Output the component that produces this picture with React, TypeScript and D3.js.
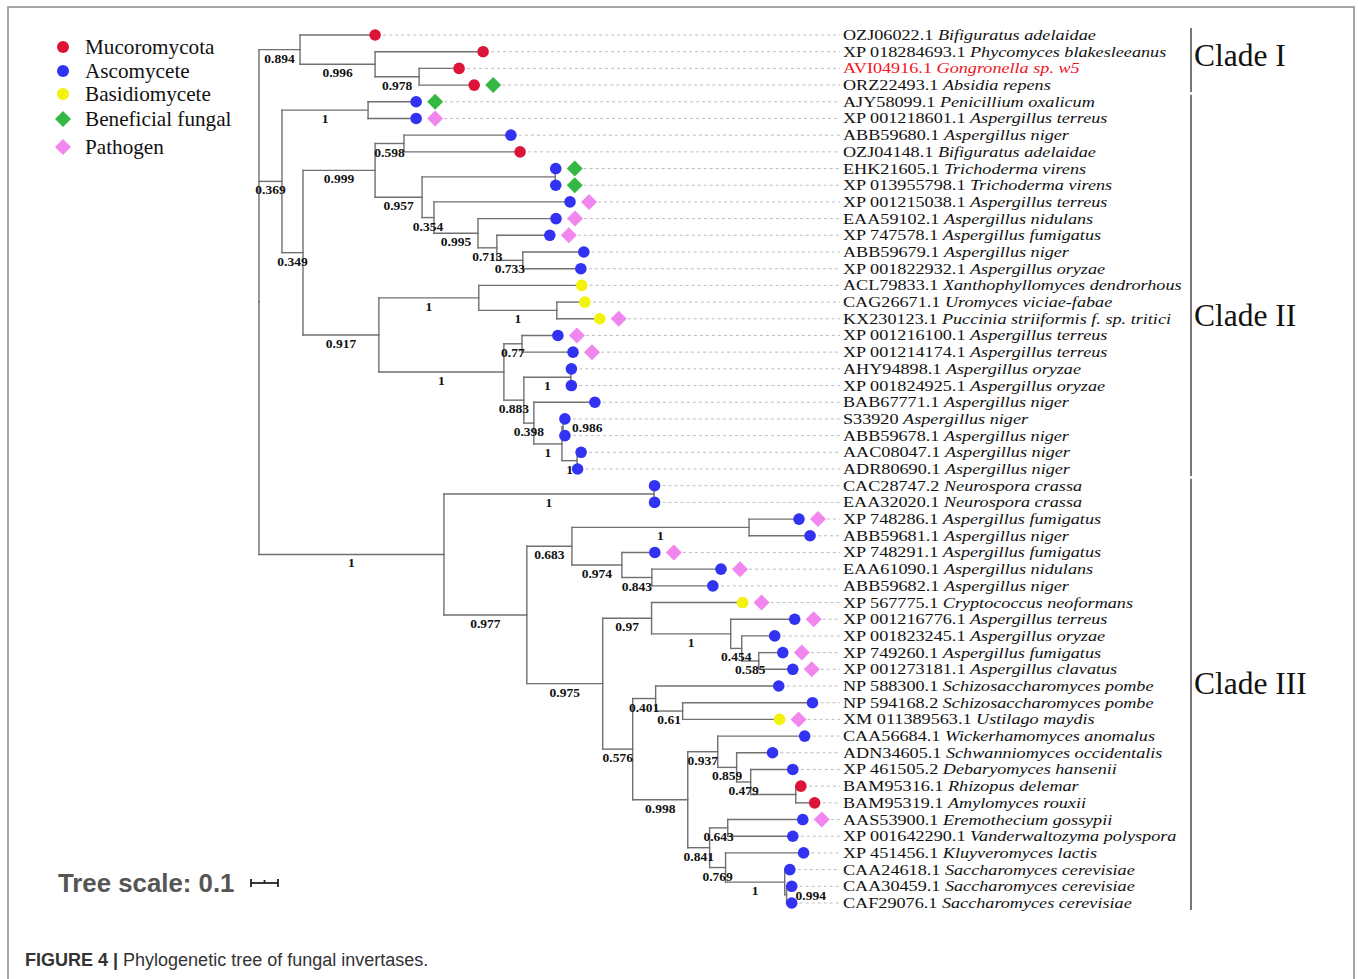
import React from "react";
import * as d3 from "d3";

// ---------- DATA ----------
// Tree topology with bootstrap values (internal labels) and branch lengths (substitutions/site)
const NEWICK = `(
 ((L0:0.278,(L1:0.400,(L2:0.148,L3:0.204)0.978:0.163)0.996:0.278)0.894:0.152,
 ((L4:0.178,L5:0.178)1:0.319,
  (((L6:0.396,L7:0.430)0.598:0.107,
    ((L8:0.002,L9:0.002):0.493,
     (L10:0.504,(L11:0.289,(L12:0.196,(L13:0.226,L14:0.215)0.733:0.096)0.713:0.070)0.995:0.163)0.354:0.044
    )0.957:0.174
   )0.999:0.267,
   ((L15:0.381,(L16:0.104,L17:0.159)1:0.289)1:0.370,
    ((L18:0.133,L19:0.189)0.77:0.067,
     ((L20:0.002,L21:0.002)1:0.174,
      (L22:0.226,((L23:0.007,L24:0.007)0.986:0.004,(L25:0.015,L26:0.002)1:0.056)1:0.104)0.398:0.037
     )0.883:0.074
    )1:0.463
   )0.917:0.281
  )0.349:0.078
 )0.369:0.085,
 ((L27:0.002,L28:0.002)1:0.778,
  (((L29:0.185,L30:0.226)1:0.656,(L31:0.122,(L32:0.256,L33:0.226)0.843:0.111)0.974:0.185)0.683:0.167,
   ((L34:0.337,(L35:0.237,(L36:0.122,(L37:0.089,L38:0.126)0.585:0.063)0.454:0.041)1:0.293)0.97:0.181,
    ((L39:0.456,(L40:0.481,L41:0.359)0.61:0.100)0.401:0.085,
     ((L42:0.322,(L43:0.133,(L44:0.156,(L45:0.019,L46:0.070):0.167)0.479:0.052)0.859:0.070)0.937:0.111,
      ((L47:0.278,L48:0.241)0.643:0.067,(L49:0.289,(L50:0.019,(L51:0.019,L52:0.019)0.994:0.007)1:0.219)0.769:0.059)0.841:0.081
     )0.998:0.204
    )0.576:0.111
   )0.975:0.281
  )0.977:0.307
 )1:0.685
);`;

const ACCESSIONS = [
  "OZJ06022.1", "XP 018284693.1", "AVI04916.1", "ORZ22493.1", "AJY58099.1",
  "XP 001218601.1", "ABB59680.1", "OZJ04148.1", "EHK21605.1", "XP 013955798.1",
  "XP 001215038.1", "EAA59102.1", "XP 747578.1", "ABB59679.1", "XP 001822932.1",
  "ACL79833.1", "CAG26671.1", "KX230123.1", "XP 001216100.1", "XP 001214174.1",
  "AHY94898.1", "XP 001824925.1", "BAB67771.1", "S33920", "ABB59678.1",
  "AAC08047.1", "ADR80690.1", "CAC28747.2", "EAA32020.1", "XP 748286.1",
  "ABB59681.1", "XP 748291.1", "EAA61090.1", "ABB59682.1", "XP 567775.1",
  "XP 001216776.1", "XP 001823245.1", "XP 749260.1", "XP 001273181.1", "NP 588300.1",
  "NP 594168.2", "XM 011389563.1", "CAA56684.1", "ADN34605.1", "XP 461505.2",
  "BAM95316.1", "BAM95319.1", "AAS53900.1", "XP 001642290.1", "XP 451456.1",
  "CAA24618.1", "CAA30459.1", "CAF29076.1",
];

const SPECIES = [
  "Bifiguratus adelaidae", "Phycomyces blakesleeanus", "Gongronella sp. w5", "Absidia repens", "Penicillium oxalicum",
  "Aspergillus terreus", "Aspergillus niger", "Bifiguratus adelaidae", "Trichoderma virens", "Trichoderma virens",
  "Aspergillus terreus", "Aspergillus nidulans", "Aspergillus fumigatus", "Aspergillus niger", "Aspergillus oryzae",
  "Xanthophyllomyces dendrorhous", "Uromyces viciae-fabae", "Puccinia striiformis f. sp. tritici", "Aspergillus terreus", "Aspergillus terreus",
  "Aspergillus oryzae", "Aspergillus oryzae", "Aspergillus niger", "Aspergillus niger", "Aspergillus niger",
  "Aspergillus niger", "Aspergillus niger", "Neurospora crassa", "Neurospora crassa", "Aspergillus fumigatus",
  "Aspergillus niger", "Aspergillus fumigatus", "Aspergillus nidulans", "Aspergillus niger", "Cryptococcus neoformans",
  "Aspergillus terreus", "Aspergillus oryzae", "Aspergillus fumigatus", "Aspergillus clavatus", "Schizosaccharomyces pombe",
  "Schizosaccharomyces pombe", "Ustilago maydis", "Wickerhamomyces anomalus", "Schwanniomyces occidentalis", "Debaryomyces hansenii",
  "Rhizopus delemar", "Amylomyces rouxii", "Eremothecium gossypii", "Vanderwaltozyma polyspora", "Kluyveromyces lactis",
  "Saccharomyces cerevisiae", "Saccharomyces cerevisiae", "Saccharomyces cerevisiae",
];

// M = Mucoromycota, A = Ascomycete, B = Basidiomycete
const GROUPS = [
  "M", "M", "M", "M", "A", "A", "A", "M", "A", "A",
  "A", "A", "A", "A", "A", "B", "B", "B", "A", "A",
  "A", "A", "A", "A", "A", "A", "A", "A", "A", "A",
  "A", "A", "A", "A", "B", "A", "A", "A", "A", "A",
  "A", "B", "A", "A", "A", "M", "M", "A", "A", "A",
  "A", "A", "A",
];

// F = Beneficial fungal, P = Pathogen, "" = none
const TRAITS = [
  "", "", "", "F", "F", "P", "", "", "F", "F",
  "P", "P", "P", "", "", "", "", "P", "P", "P",
  "", "", "", "", "", "", "", "", "", "P",
  "", "P", "P", "", "P", "P", "", "P", "P", "",
  "", "P", "", "", "", "", "", "P", "", "",
  "", "", "",
];

const HIGHLIGHT = [2];

const CLADES = [
  { name: "Clade I", first: 0, last: 3, labelAt: 1.2 },
  { name: "Clade II", first: 4, last: 26, labelAt: 16.8 },
  { name: "Clade III", first: 27, last: 52, labelAt: 38.8 },
];

const LEGEND = [
  { label: "Mucoromycota", key: "M", shape: "circle" },
  { label: "Ascomycete", key: "A", shape: "circle" },
  { label: "Basidiomycete", key: "B", shape: "circle" },
  { label: "Beneficial fungal", key: "F", shape: "diamond" },
  { label: "Pathogen", key: "P", shape: "diamond" },
];

const SCALE_VALUE = 0.1;

// ---------- STYLE ----------
const COLORS: Record<string, string> = {
  M: "#dc1438",
  A: "#3232f2",
  B: "#f2f20a",
  F: "#34b844",
  P: "#f086ee",
};
const BRANCH = "#707070";
const SERIF = "'Liberation Serif', 'Times New Roman', serif";
const SANS = "'Liberation Sans', Arial, sans-serif";

type TNode = { name: string; length: number; children: TNode[] };

function parseNewick(src: string): TNode {
  const s = src.replace(/\s+/g, "");
  let i = 0;
  function parseNode(): TNode {
    const node: TNode = { name: "", length: 0, children: [] };
    if (s[i] === "(") {
      i++;
      node.children.push(parseNode());
      while (s[i] === ",") {
        i++;
        node.children.push(parseNode());
      }
      i++;
    }
    let label = "";
    while (i < s.length && !":,);".includes(s[i])) label += s[i++];
    node.name = label;
    if (s[i] === ":") {
      i++;
      let num = "";
      while (i < s.length && !",);".includes(s[i])) num += s[i++];
      node.length = +num;
    }
    return node;
  }
  return parseNode();
}

function diamond(cx: number, cy: number, r: number) {
  return `M${cx},${cy - r}L${cx + r},${cy}L${cx},${cy + r}L${cx - r},${cy}Z`;
}

export default function App() {
  const W = 1358;
  const H = 979;

  const root = d3.hierarchy(parseNewick(NEWICK), (d: TNode) => (d.children.length ? d.children : null));

  // cumulative distances
  const dist = new Map<any, number>();
  root.eachBefore((n: any) => {
    dist.set(n, n.parent ? dist.get(n.parent)! + n.data.length : 0);
  });

  const x = d3.scaleLinear().domain([0, 1]).range([259, 529]);
  const y = d3.scaleLinear().domain([0, ACCESSIONS.length - 1]).range([35, 903]);

  const pos = new Map<any, { x: number; y: number }>();
  root.eachAfter((n: any) => {
    const px = x(dist.get(n)!);
    let py: number;
    if (!n.children) {
      py = y(+n.data.name.slice(1));
    } else {
      py = (pos.get(n.children[0])!.y + pos.get(n.children[n.children.length - 1])!.y) / 2;
    }
    pos.set(n, { x: px, y: py });
  });

  const lines: React.ReactNode[] = [];
  const labels: React.ReactNode[] = [];
  let k = 0;
  root.each((n: any) => {
    const p = pos.get(n)!;
    if (n.children) {
      const y0 = pos.get(n.children[0])!.y;
      const y1 = pos.get(n.children[n.children.length - 1])!.y;
      lines.push(<line key={`v${k++}`} x1={p.x} x2={p.x} y1={y0} y2={y1} />);
      n.children.forEach((c: any) => {
        const cp = pos.get(c)!;
        lines.push(<line key={`h${k++}`} x1={p.x} x2={cp.x} y1={cp.y} y2={cp.y} />);
      });
    }
    if (n.children && n.parent && n.data.name) {
      const pp = pos.get(n.parent)!;
      const len = p.x - pp.x;
      if (len < 5) {
        labels.push(
          <text key={`b${k++}`} x={p.x + 9} y={p.y + 5} textAnchor="start">
            {n.data.name}
          </text>
        );
      } else {
        labels.push(
          <text key={`b${k++}`} x={(p.x + pp.x) / 2} y={p.y + 13} textAnchor="middle">
            {n.data.name}
          </text>
        );
      }
    }
  });

  const leaves = root.leaves();
  const leafMarks = leaves.map((n: any) => {
    const idx = +n.data.name.slice(1);
    const p = pos.get(n)!;
    const trait = TRAITS[idx];
    const dx = p.x + 19;
    const dashStart = trait ? dx + 9 : p.x + 8;
    return (
      <g key={`leaf${idx}`}>
        <line x1={dashStart} x2={840} y1={p.y} y2={p.y} stroke="#bdbdbd" strokeWidth={1} strokeDasharray="3,3" />
        <circle cx={p.x} cy={p.y} r={5.8} fill={COLORS[GROUPS[idx]]} />
        {trait && <path d={diamond(dx, p.y, 8)} fill={COLORS[trait]} />}
        <text
          transform={`translate(843,${p.y + 5}) scale(1.22,1)`}
          fontFamily={SERIF}
          fontSize={14.9}
          fill={HIGHLIGHT.includes(idx) ? "#f0141e" : "#111"}
        >
          {ACCESSIONS[idx] + " "}
          <tspan fontStyle="italic">{SPECIES[idx]}</tspan>
        </text>
      </g>
    );
  });

  const scalePx = x(SCALE_VALUE) - x(0);
  const sbX = 251;
  const sbY = 883;

  return (
    <svg width={W} height={H} style={{ position: "absolute", left: 0, top: 0, background: "#fff" }}>
      <rect x={0} y={0} width={W} height={H} fill="#fff" />
      {/* frame */}
      <path d={`M8,${H + 5}V7H1354V${H + 5}`} fill="none" stroke="#8a8a8a" strokeWidth={1.5} />

      {/* legend */}
      <g fontFamily={SERIF} fontSize={21.2}>
        {LEGEND.map((l, i) => {
          const ly = [47, 71, 94, 119, 147][i];
          return (
            <g key={l.key}>
              {l.shape === "circle" ? (
                <circle cx={63} cy={ly} r={6} fill={COLORS[l.key]} />
              ) : (
                <path d={diamond(63, ly, 8)} fill={COLORS[l.key]} />
              )}
              <text x={85} y={ly + 7} fill="#111">
                {l.label}
              </text>
            </g>
          );
        })}
      </g>

      {/* tree */}
      <g stroke={BRANCH} strokeWidth={1.4} strokeLinecap="square">
        {lines}
      </g>
      {leafMarks}
      <g fontFamily={SERIF} fontSize={13.5} fontWeight="bold" fill="#111">
        {labels}
      </g>

      {/* clades */}
      {CLADES.map((c) => (
        <g key={c.name}>
          <line x1={1191} x2={1191} y1={y(c.first) - 7} y2={y(c.last) + 7} stroke="#777" strokeWidth={2} />
          <text x={1194} y={y(c.labelAt) + 11} fontFamily={SERIF} fontSize={31.5} fill="#111">
            {c.name}
          </text>
        </g>
      ))}

      {/* tree scale */}
      <text x={58} y={sbY + 9} fontFamily={SANS} fontSize={25.8} fontWeight="bold" fill="#555">
        {`Tree scale: ${SCALE_VALUE}`}
      </text>
      <g stroke="#222" strokeWidth={1.8}>
        <line x1={sbX} x2={sbX + scalePx} y1={sbY} y2={sbY} />
        <line x1={sbX} x2={sbX} y1={sbY - 4} y2={sbY + 4} />
        <line x1={sbX + scalePx} x2={sbX + scalePx} y1={sbY - 4} y2={sbY + 4} />
        <line x1={sbX + scalePx / 2} x2={sbX + scalePx / 2} y1={sbY - 3} y2={sbY} />
      </g>

      {/* caption */}
      <text x={25} y={966} fontFamily={SANS} fontSize={18} fill="#333">
        <tspan fontWeight="bold">FIGURE 4 | </tspan>
        Phylogenetic tree of fungal invertases.
      </text>
    </svg>
  );
}
